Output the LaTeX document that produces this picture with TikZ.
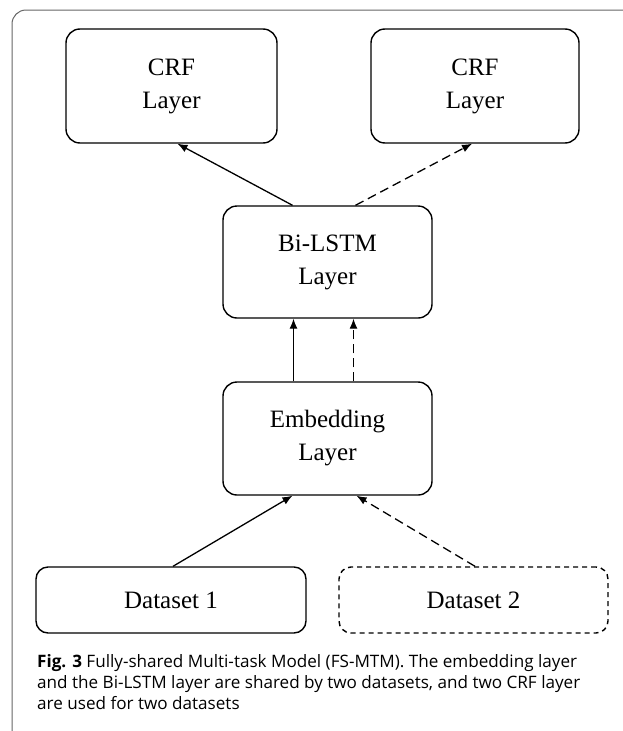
\documentclass[tikz,border=0pt]{standalone}
\usepackage{fontspec}
\setmainfont{Liberation Serif}
\newfontfamily\capfont{Open Sans}
\usetikzlibrary{arrows.meta}

\begin{document}
\begin{tikzpicture}[x=1pt, y=-1pt,
        layerbox/.style={draw, rounded corners=14pt, line width=1.4pt, align=center, inner sep=0pt,
            font=\fontsize{25}{33}\selectfont},
        link/.style={line width=1.3pt, -{Latex[length=10pt,width=8pt]}},
        dashlink/.style={link, dash pattern=on 9pt off 5pt},
        capline/.style={anchor=base west, inner sep=0pt, font=\capfont\fontsize{17.1}{21}\selectfont}]
        \useasboundingbox (0,0) rectangle (623,731);

        % Cornice
        \draw[gray!80!black, line width=1pt, rounded corners=14pt] (623,10) -- (12,10) -- (12,731);

        % Livello superiore
        \node (crfa) at (171.5,86) [layerbox, minimum width=211pt, minimum height=114pt] {CRF\\Layer};
        \node (crfb) at (475,86) [layerbox, minimum width=208pt, minimum height=114pt] {CRF\\Layer};

        % Livelli condivisi
        \node (lstm) at (327.5,262) [layerbox, minimum width=209pt, minimum height=112pt] {Bi-LSTM\\Layer};
        \node (emb) at (327.5,438.5) [layerbox, minimum width=209pt, minimum height=113pt] {Embedding\\Layer};

        % Livello inferiore
        \node (dsa) at (171,600) [layerbox, rounded corners=12pt, minimum width=270pt, minimum height=66pt] {Dataset 1};
        \node (dsb) at (473.5,600) [layerbox, rounded corners=12pt, dash pattern=on 5pt off 4pt,
            minimum width=269pt, minimum height=66pt] {Dataset 2};

        % Collegamenti
        \draw[link] ([xshift=-35pt]lstm.north) -- ([xshift=6pt]crfa.south);
        \draw[dashlink] ([xshift=28pt]lstm.north) -- ([xshift=-3pt]crfb.south);
        \draw[link] ([xshift=-34pt]emb.north) -- ([xshift=-34pt]lstm.south);
        \draw[dashlink] ([xshift=26pt]emb.north) -- ([xshift=26pt]lstm.south);
        \draw[link] ([xshift=2pt]dsa.north) -- ([xshift=-35pt]emb.south);
        \draw[dashlink] ([xshift=1.5pt]dsb.north) -- ([xshift=29pt]emb.south);

        % Didascalia
        \node (capa) at (37,667) [capline] {\textbf{Fig. 3} Fully-shared Multi-task Model (FS-MTM). The embedding layer};
        \node (capb) at (37,688) [capline] {and the Bi-LSTM layer are shared by two datasets, and two CRF layer};
        \node (capc) at (37,709) [capline] {are used for two datasets};
    \end{tikzpicture}
\end{document}
